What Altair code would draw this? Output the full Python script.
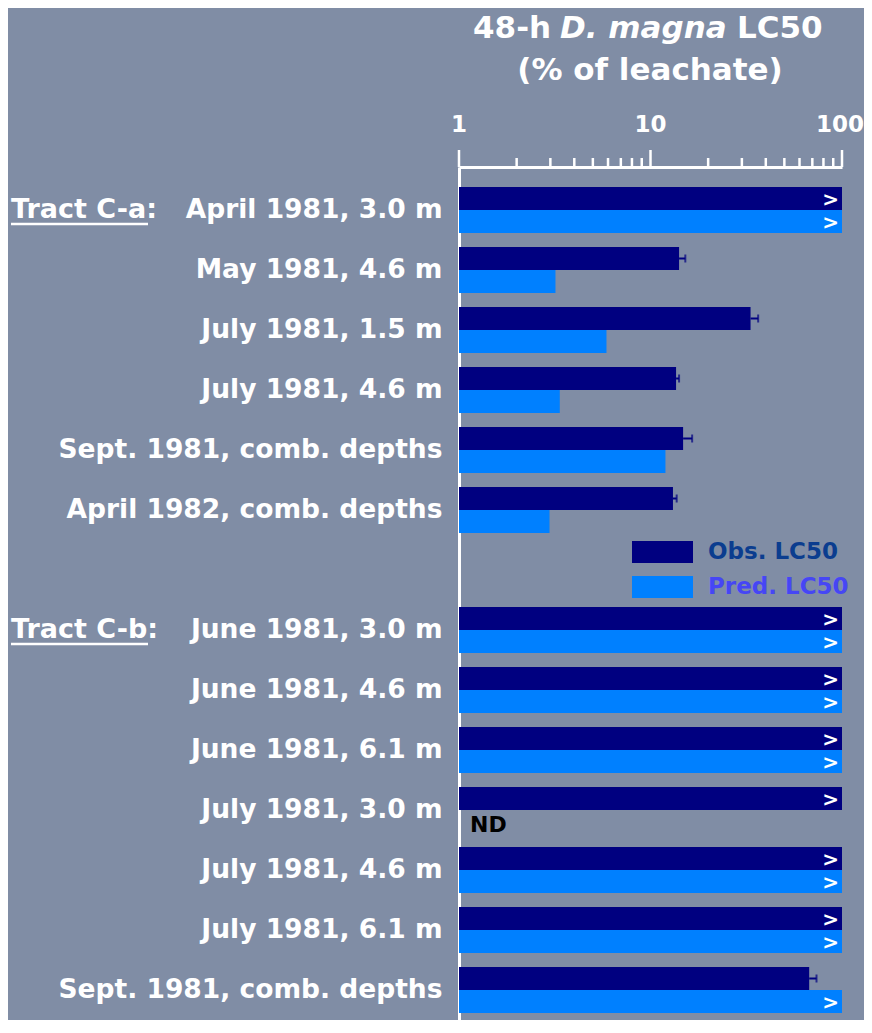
import altair as alt
import pandas as pd

# ---- data ----
row_group = ["a", "a", "a", "a", "a", "a", "g", "b", "b", "b", "b", "b", "b", "b"]
row_labels = ["April 1981, 3.0 m", "May 1981, 4.6 m", "July 1981, 1.5 m", "July 1981, 4.6 m",
              "Sept. 1981, comb. depths", "April 1982, comb. depths", "",
              "June 1981, 3.0 m", "June 1981, 4.6 m", "June 1981, 6.1 m", "July 1981, 3.0 m",
              "July 1981, 4.6 m", "July 1981, 6.1 m", "Sept. 1981, comb. depths"]
obs_lc50 = [100, 14.1, 33.3, 13.6, 14.8, 13.1, None, 100, 100, 100, 100, 100, 100, 67.4]
obs_upper = [None, 15.2, 36.5, 14.1, 16.5, 13.7, None, None, None, None, None, None, None, 73.6]
obs_greater = [True, False, False, False, False, False, False, True, True, True, True, True, True, False]
pred_lc50 = [100, 3.19, 5.89, 3.36, 11.97, 2.97, None, 100, 100, 100, None, 100, 100, 100]
pred_greater = [True, False, False, False, False, False, False, True, True, True, False, True, True, True]
pred_nd = [False, False, False, False, False, False, False, False, False, False, True, False, False, False]
tract_labels = ["Tract C-a:", "Tract C-b:"]
tract_rows = [0, 7]
x_ticks = [1, 2, 3, 4, 5, 6, 7, 8, 9, 10, 20, 30, 40, 50, 60, 70, 80, 90, 100]
x_major = [1, 10, 100]
x_major_labels = ["1", "10", "100"]
series_names = ["Obs", "Pred"]
legend_labels = ["Obs. LC50", "Pred. LC50"]

keys = [g + "|" + l for g, l in zip(row_group, row_labels)]

bars = []
for i, k in enumerate(keys):
    if obs_lc50[i] is not None:
        bars.append({"row": k, "series": "Obs", "value": obs_lc50[i], "gt": obs_greater[i]})
    if pred_lc50[i] is not None:
        bars.append({"row": k, "series": "Pred", "value": pred_lc50[i], "gt": pred_greater[i]})
bars_df = pd.DataFrame(bars)
gt_df = bars_df[bars_df["gt"]]
err_df = pd.DataFrame([{"row": keys[i], "series": "Obs", "value": obs_lc50[i], "upper": obs_upper[i]}
                       for i in range(len(keys)) if obs_upper[i] is not None])
nd_df = pd.DataFrame([{"row": keys[i], "series": "Pred", "t": "ND"} for i in range(len(keys)) if pred_nd[i]])
tract_df = pd.DataFrame({"row": [keys[i] for i in tract_rows], "label": tract_labels})
ticks_df = pd.DataFrame({"v": x_ticks, "major": [t in x_major for t in x_ticks]})
lab_df = pd.DataFrame({"v": x_major, "t": x_major_labels})

BG = "#808DA5"
DARK = "#000080"
LIGHT = "#0080FF"
FONT = "DejaVu Sans"

xscale = alt.Scale(type="log", domain=[1, 100], nice=False)
xaxis = alt.Axis(orient="top", values=x_major, title=None, ticks=False, tickSize=0, labels=False,
                 domain=True, domainColor="white", domainWidth=3, grid=False)
yscale = alt.Scale(domain=keys, paddingInner=14 / 60, paddingOuter=0.225, align=0.7407)
yaxis = alt.Axis(title=None, ticks=False, tickSize=0, domain=True, domainColor="white", domainWidth=3,
                 labelExpr="substring(datum.value, 2)", labelFont=FONT, labelFontWeight="bold",
                 labelFontSize=26.5, labelColor="white", labelPadding=17, labelLimit=0, grid=False)
yoff = alt.YOffset("series:N", sort=series_names, scale=alt.Scale(paddingInner=0, paddingOuter=0))


def X(f):
    return alt.X(f, type="quantitative", scale=xscale, axis=xaxis)


def Y():
    return alt.Y("row:N", scale=yscale, axis=yaxis)


bar_layer = alt.Chart(bars_df).mark_bar().encode(
    x=X("value"), x2=alt.datum(1), y=Y(), yOffset=yoff,
    color=alt.Color("series:N", scale=alt.Scale(domain=series_names, range=[DARK, LIGHT]), legend=None),
)
gt_layer = alt.Chart(gt_df).mark_text(text=">", align="right", baseline="middle", dx=-3, dy=2,
                                      font=FONT, fontWeight="bold", fontSize=20, color="white").encode(
    x=X("value"), y=Y(), yOffset=yoff)
err_layer = alt.Chart(err_df).mark_rule(color=DARK, strokeWidth=2).encode(
    x=X("value"), x2="upper:Q", y=Y(), yOffset=yoff)
cap_layer = alt.Chart(err_df).mark_tick(color=DARK, thickness=2, size=8, orient="vertical").encode(
    x=X("upper"), y=Y(), yOffset=yoff)
nd_layer = alt.Chart(nd_df).mark_text(align="left", baseline="middle", dy=4, font=FONT, fontWeight="bold",
                                      fontSize=22, color="black").encode(
    x=alt.value(11), y=Y(), yOffset=yoff, text="t:N")
tract_layer = alt.Chart(tract_df).mark_text(align="left", baseline="middle", font=FONT, fontWeight="bold",
                                            fontSize=27, color="white").encode(
    x=alt.value(-448), y=Y(), text="label:N")
underline_layer = alt.Chart(tract_df).mark_rule(color="white", strokeWidth=2.5, yOffset=14).encode(
    x=alt.value(-448), x2=alt.value(-311), y=Y())
major_ticks = alt.Chart(ticks_df[ticks_df["major"]]).mark_rule(color="white", strokeWidth=2.5).encode(
    x=X("v"), y=alt.value(0), y2=alt.value(-17))
minor_ticks = alt.Chart(ticks_df[~ticks_df["major"]]).mark_rule(color="white", strokeWidth=2.5).encode(
    x=X("v"), y=alt.value(0), y2=alt.value(-9))
tick_labels_c = alt.Chart(lab_df[lab_df["v"] < 100]).mark_text(
    align="center", baseline="alphabetic", font=FONT, fontWeight="bold", fontSize=23, color="white").encode(
    x=X("v"), y=alt.value(-35), text="t:N")
tick_labels_r = alt.Chart(lab_df[lab_df["v"] >= 100]).mark_text(
    align="right", baseline="alphabetic", dx=22, font=FONT, fontWeight="bold", fontSize=23, color="white").encode(
    x=X("v"), y=alt.value(-35), text="t:N")

title_parts = [
    ("48-h", 14, "normal"),
    ("D. magna", 101, "italic"),
    ("LC50", 278, "normal"),
]
title_layers = []
for txt, xpos, style in title_parts:
    title_layers.append(
        alt.Chart(pd.DataFrame({"t": [txt]})).mark_text(
            align="left", baseline="alphabetic", font=FONT, fontWeight="bold", fontStyle=style,
            fontSize=31, color="white").encode(x=alt.value(xpos), y=alt.value(-129), text="t:N"))
title_layers.append(
    alt.Chart(pd.DataFrame({"t": ["(% of leachate)"]})).mark_text(
        align="center", baseline="alphabetic", font=FONT, fontWeight="bold",
        fontSize=31, color="white").encode(x=alt.value(191), y=alt.value(-87), text="t:N"))

leg_layers = []
for i, (lab, fill, tcol) in enumerate(zip(legend_labels, [DARK, LIGHT], ["#0B3D8F", "#4646F5"])):
    y0 = 374 + i * 35
    leg_layers.append(alt.Chart(pd.DataFrame({"t": [lab]})).mark_rect(color=fill).encode(
        x=alt.value(173), x2=alt.value(234), y=alt.value(y0), y2=alt.value(y0 + 22)))
    leg_layers.append(alt.Chart(pd.DataFrame({"t": [lab]})).mark_text(
        align="left", baseline="middle", font=FONT, fontWeight="bold", fontSize=23, color=tcol).encode(
        x=alt.value(249), y=alt.value(y0 + 11), text="t:N"))

chart = alt.layer(
    bar_layer, err_layer, cap_layer, gt_layer, nd_layer, tract_layer, underline_layer,
    major_ticks, minor_ticks, tick_labels_c, tick_labels_r, *title_layers, *leg_layers
).properties(
    width=383, height=853, background=BG,
    padding={"left": 451, "top": 159, "right": 22, "bottom": 0},
    autosize=alt.AutoSizeParams(type="none"),
).configure_view(stroke=None)

chart.save("out.html", embed_options={"renderer": "svg", "actions": False})
